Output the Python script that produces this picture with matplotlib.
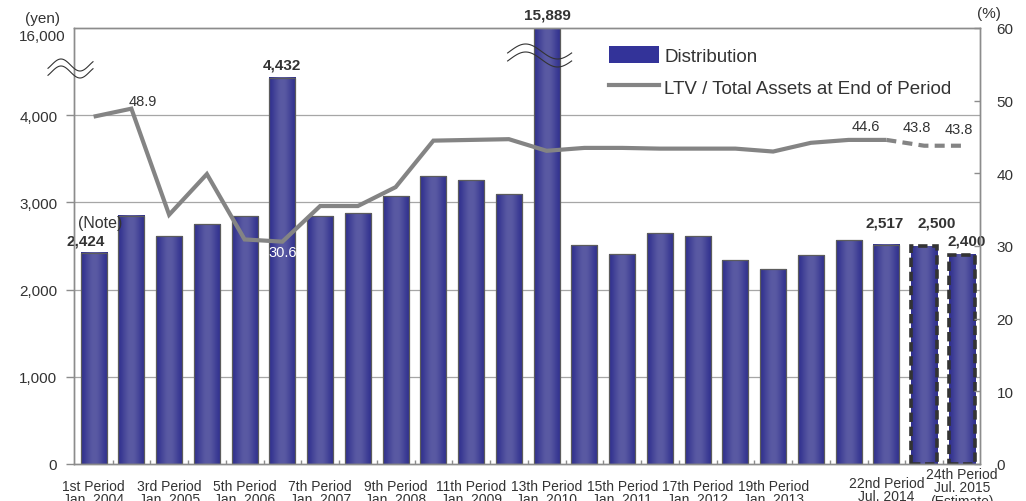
import numpy as np
import matplotlib
matplotlib.use('Agg')
import matplotlib.pyplot as plt
import matplotlib.transforms as mtransforms
from matplotlib.colors import LinearSegmentedColormap
from matplotlib.patches import Patch
from matplotlib.lines import Line2D

plt.rcParams['font.family'] = ['Liberation Sans', 'DejaVu Sans']

# ---------------- data ----------------
period_labels = ['1st Period\nJan. 2004', '', '3rd Period\nJan. 2005', '', '5th Period\nJan. 2006', '',
                 '7th Period\nJan. 2007', '', '9th Period\nJan. 2008', '', '11th Period\nJan. 2009', '',
                 '13th Period\nJan. 2010', '', '15th Period\nJan. 2011', '', '17th Period\nJan. 2012', '',
                 '19th Period\nJan. 2013', '', '', '22nd Period\nJul. 2014', '',
                 '24th Period\nJul. 2015\n(Estimate)']
distribution = [2424, 2845, 2610, 2750, 2840, 4432, 2840, 2875, 3070, 3300, 3255, 3095,
                15889, 2510, 2405, 2645, 2610, 2335, 2235, 2395, 2565, 2517, 2500, 2400]
ltv = [47.8, 48.9, 34.3, 39.9, 30.9, 30.6, 35.5, 35.5, 38.1, 44.5, 44.6, 44.7,
       43.1, 43.5, 43.5, 43.4, 43.4, 43.4, 43.0, 44.2, 44.6, 44.6, 43.8, 43.8]
estimate = [False] * 22 + [True, True]
labeled_bars = [0, 5, 12, 21, 22, 23]
labeled_ltv = [1, 5, 21, 22, 23]
left_ticks = [0, 1000, 2000, 3000, 4000, 5000]
left_ticklabels = ['0', '1,000', '2,000', '3,000', '4,000', '16,000']
right_ticks = [0, 10, 20, 30, 40, 50, 60]
series_names = ['Distribution', 'LTV / Total Assets at End of Period']

# ---------------- styles ----------------
BLUE = '#333399'
GRAY_LINE = '#848484'
TXT = '#333333'
AX_GRAY = '#8c8c8c'
DPI = 100

# pixel offsets for labels (x, y-up)
bar_label_off = {0: (-8, 12), 5: (0, 13), 12: (1, 13), 21: (-2, 22), 22: (13, 23), 23: (5, 14)}
ltv_label_off = {1: (11, 8), 5: (0, -10), 21: (-21, 14), 22: (-7, 19), 23: (-3, 17)}
xlabel_off = {0: -15, 2: -15, 4: -15, 6: -15, 8: -15, 10: -15, 12: -15, 14: -15, 16: -15, 18: -15,
              21: -12, 23: -3}

fig = plt.figure(figsize=(10.26, 5.02), dpi=DPI)
ax = fig.add_axes([74 / 1026, 37 / 502, 906 / 1026, 436 / 502])
ax2 = ax.twinx()

n = len(distribution)
x = np.arange(n)
ymax = left_ticks[-1]

# gridlines
for t in left_ticks[1:-1]:
    ax.axhline(t, color='#a6a6a6', lw=0.9, zorder=0.5)

# bars with a cylindrical gradient
bw = 0.69
bars = ax.bar(x, distribution, width=bw, color=BLUE, edgecolor='none', zorder=2)
prof = np.cos(np.linspace(-np.pi / 2, np.pi / 2, 100)) ** 1.5
cmap = LinearSegmentedColormap.from_list('bargrad', ['#30308e', '#5a5aa3'])
for b in bars:
    x0, w, h = b.get_x(), b.get_width(), b.get_height()
    ax.imshow(prof[None, :], cmap=cmap, vmin=0, vmax=1, extent=[x0, x0 + w, 0, min(h, ymax)],
              aspect='auto', zorder=2.1, interpolation='bilinear')
# outlines
for i, b in enumerate(bars):
    if estimate[i]:
        ax.bar(x[i], distribution[i], width=bw, facecolor='none', edgecolor='#333333',
               lw=2.6, linestyle=(0, (2.6, 1.3)), zorder=2.3)
    else:
        ax.bar(x[i], distribution[i], width=bw, facecolor='none', edgecolor='#5c5c5c',
               lw=0.9, zorder=2.2)

ax.set_xlim(-0.52, n - 0.52)
ax.set_ylim(0, ymax)

# LTV line
solid_end = estimate.index(True) - 1
ax2.plot(x[:solid_end + 1], ltv[:solid_end + 1], color=GRAY_LINE, lw=3, zorder=3,
         solid_capstyle='butt', solid_joinstyle='miter')
ax2.plot(x[solid_end:], ltv[solid_end:], color=GRAY_LINE, lw=3, linestyle=(0, (2.4, 1.5)), zorder=3)
ax2.set_ylim(0, 60)
ax2.set_zorder(ax.get_zorder() + 1)
ax2.patch.set_visible(False)

# spines
for a in (ax, ax2):
    for s in a.spines.values():
        s.set_color(AX_GRAY)
        s.set_linewidth(1.0)

# left axis ticks
ax.set_yticks(left_ticks)
ax.set_yticklabels(left_ticklabels)
ax.tick_params(axis='y', direction='out', length=6, width=1, color=AX_GRAY, pad=6,
               labelsize=11, labelcolor=TXT)
yt = ax.yaxis.get_major_ticks()[-1]
yt.tick1line.set_visible(False)
yt.label1.set_transform(yt.label1.get_transform() +
                        mtransforms.ScaledTranslation(8 / DPI, -7 / DPI, fig.dpi_scale_trans))

# right axis ticks
ax2.set_yticks(right_ticks)
ax2.tick_params(axis='y', direction='in', length=4, width=1, color=AX_GRAY, pad=12,
                labelsize=11, labelcolor=TXT)

# x axis: minor ticks between bars, labels as text
ax.set_xticks([])
ax.set_xticks(np.arange(n - 1) + 0.5, minor=True)
ax.tick_params(axis='x', which='minor', direction='in', length=3, color=AX_GRAY, width=1)
for i, lab in enumerate(period_labels):
    if lab:
        ax.annotate(lab, xy=(x[i], 0), xycoords=('data', 'axes fraction'),
                    xytext=(0, xlabel_off[i] * 0.72), textcoords='offset points',
                    ha='center', va='top', fontsize=10, color=TXT, linespacing=0.95,
                    annotation_clip=False)

# bar value labels
for i in labeled_bars:
    dx, dy = bar_label_off[i]
    ax.annotate(f'{distribution[i]:,}', xy=(x[i], min(distribution[i], ymax)),
                xytext=(dx * 0.72, dy * 0.72), textcoords='offset points',
                ha='center', va='center', fontsize=11, fontweight='bold', color=TXT,
                annotation_clip=False, zorder=5)
ax.annotate('(Note)', xy=(x[0], distribution[0]), xytext=(7 * 0.72, 30 * 0.72),
            textcoords='offset points', ha='center', va='center', fontsize=11.5, color=TXT,
            zorder=5)

# LTV labels
for i in labeled_ltv:
    dx, dy = ltv_label_off[i]
    col = 'white' if dy < 0 else TXT
    ax2.annotate(f'{ltv[i]:.1f}', xy=(x[i], ltv[i]), xytext=(dx * 0.72, dy * 0.72),
                 textcoords='offset points', ha='center', va='center', fontsize=10.5,
                 color=col, zorder=5)

# axis unit labels
fig.text(43 / 1026, 1 - 19 / 502, '(yen)', ha='center', va='center', fontsize=11, color=TXT)
fig.text(989 / 1026, 1 - 14 / 502, '(%)', ha='center', va='center', fontsize=11, color=TXT)

# axis-break marks
def wave(x0, x1, yc, amp, period, phase_x):
    xs = np.linspace(x0, x1, 80)
    ys = yc - amp * np.sin(2 * np.pi * (xs - phase_x) / period + np.pi / 2)
    return xs, ys

def draw_px(xs, ys):
    fig.add_artist(Line2D(xs / 1026, 1 - ys / 502, color='#333333', lw=0.8,
                          transform=fig.transFigure))

fig.canvas.draw()
for off in (0, 7):
    xs, ys = wave(48, 93, 66 + off, 6, 38, 61)
    draw_px(xs, ys)
bx, _ = ax.transData.transform((x[12], 0))
for off in (0, 8):
    xs, ys = wave(bx - 39, bx + 25, 52.5 + off, 7.5, 64, bx - 21)
    draw_px(xs, ys)

# legend
handles = [Patch(facecolor=BLUE, edgecolor='none'), Line2D([], [], color=GRAY_LINE, lw=3)]
fig.legend(handles, series_names, loc='upper left',
           bbox_to_anchor=(609 / 1026, 1 - 47 / 502), bbox_transform=fig.transFigure,
           frameon=False, fontsize=13.5, handlelength=2.65, handleheight=1.0,
           handletextpad=0.3, labelspacing=0.7, borderpad=0, borderaxespad=0,
           labelcolor=TXT)

fig.savefig('out.png', dpi=DPI)
